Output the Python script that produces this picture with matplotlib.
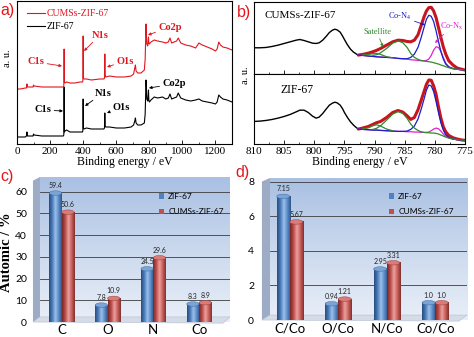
import numpy as np
import matplotlib
matplotlib.use("Agg")
import matplotlib.pyplot as plt
from matplotlib.patches import Ellipse, Polygon, Rectangle
from matplotlib.colors import LinearSegmentedColormap

W, H = 474, 337
plt.rcParams["mathtext.default"] = "regular"
SERIF = "Liberation Serif"
SANS = "Liberation Sans"
CALI = "Lato"

# ---------------- a) survey spectra ----------------
survey_ev = [0, 20, 50, 57, 60, 63, 90, 97, 100, 103, 150, 200, 250, 280, 283, 285, 287, 290, 300, 320,
             350, 380, 396, 398, 400, 402, 405, 420, 450, 500, 525, 529, 531, 533, 536, 560, 600, 650, 690, 705,
             712, 716, 720, 730, 750, 770, 775, 778, 780, 782, 785, 790, 793, 795, 797, 800, 810, 830, 850, 880,
             900, 915, 925, 935, 950, 965, 975, 990, 1020, 1050, 1080, 1100, 1120, 1150, 1180, 1200, 1210, 1220, 1230, 1245,
             1270, 1300]
survey_zif = [7, 7, 7, 8, 12, 8, 8, 8, 10, 9, 8, 8, 8, 8, 9, 57, 12, 13, 14, 12,
              12, 12, 12, 13, 45, 16, 15, 16, 15, 15, 15, 16, 31, 18, 17, 17, 16, 16, 17, 19,
              23, 26, 21, 19, 19, 21, 30, 50, 64, 58, 45, 43, 48, 54, 44, 42, 44, 47, 46, 47,
              45, 46, 50, 45, 46, 47, 51, 46, 44, 43, 44, 45, 43, 42, 41, 40, 42, 49, 47, 45,
              44, 42]
survey_cums = [55, 55, 56, 56, 60, 57, 57, 57, 59, 58, 57, 57, 57, 57, 58, 95, 62, 61, 62, 61,
               61, 62, 62, 63, 108, 66, 65, 65, 64, 65, 65, 66, 90, 69, 67, 68, 67, 67, 68, 70,
               76, 79, 73, 71, 71, 74, 85, 105, 120, 110, 100, 98, 102, 107, 101, 100, 102, 104, 103, 102,
               101, 102, 106, 101, 102, 103, 106, 101, 99, 98, 96, 101, 99, 97, 95, 93, 95, 102, 99, 97,
               96, 94]

# ---------------- b) Co2p spectra ----------------
raw_ev = [810, 809, 808, 807, 806, 805, 804, 803, 802.4, 801.7, 801, 800.3, 799.7, 799.2, 798.6, 798,
          797.5, 797, 796.6, 796.2, 795.7, 795.3, 795, 794.5, 794, 793.5, 793, 792.7]
raw_cums = [79, 79, 80, 83, 87, 92, 97, 102, 104, 101, 97, 93, 92, 94, 102, 114,
            125, 132, 135, 133, 126, 114, 104, 88, 75, 66, 60, 57]
raw_zif = [68, 69, 71, 74, 78, 83, 89, 97, 102, 102, 95, 84, 78, 81, 92, 106,
           117, 123, 126, 124, 117, 106, 95, 80, 67, 57, 49, 45]

fit_ev = [792.7, 792, 791, 790.3, 789.7, 789, 788, 787, 786.1, 785.3, 784.6, 784, 783.4, 782.8, 782.3,
          781.8, 781.4, 781, 780.6, 780.2, 779.8, 779.4, 779, 778.6, 778.2, 777.7, 777, 776.3, 775.5, 775]
env_cums = [57, 59, 63, 67, 71, 77, 87, 97, 102, 101, 98, 97, 102, 118, 145,
            172, 190, 200, 201, 190, 170, 140, 110, 82, 60, 40, 27, 18, 14, 12]
conx_cums = [57, 56, 54, 53, 52, 51, 50, 49, 47, 46, 45, 43, 42, 41, 40,
             40, 41, 45, 56, 72, 82, 80, 68, 50, 33, 22, 17, 14, 13, 12]
con4_cums = [57, 56, 54, 53, 52, 51, 50, 49, 47, 46, 46, 50, 60, 80, 108,
             140, 165, 177, 174, 158, 130, 98, 68, 45, 30, 21, 16, 14, 13, 12]
sat1_ev = [792, 791, 790.3, 789.7, 789, 788, 787]
sat1_cums = [57, 59, 61, 62, 59, 52, 49]
sat2_cums = [56, 58, 64, 77, 93, 100, 94, 80, 62, 50, 44, 41, 39, 38, 37,
             36, 34, 32, 30, 27, 25, 22, 19, 16, 14, 13, 12]

env_zif = [45, 48, 53, 59, 64, 68, 80, 95, 101, 96, 85, 74, 80, 103, 130,
           158, 180, 193, 192, 175, 150, 112, 78, 52, 37, 26, 19, 15, 12, 11]
conx_zif = [45, 44, 43, 42, 42, 41, 40, 39, 38, 38, 37, 37, 36, 36, 35,
            35, 35, 36, 40, 45, 48, 46, 39, 30, 23, 18, 15, 13, 12, 11]
con4_zif = [45, 44, 43, 42, 42, 41, 40, 39, 38, 38, 39, 44, 54, 75, 103,
            135, 162, 178, 175, 158, 128, 95, 64, 42, 28, 20, 15, 13, 12, 11]
sat1_zif = [45, 49, 55, 58, 54, 45, 40]
sat2_zif = [44, 47, 55, 72, 90, 98, 92, 77, 60, 48, 41, 37, 35, 34, 34,
            33, 33, 32, 30, 27, 24, 21, 18, 15, 13, 12, 11]

# ---------------- c) / d) composition ----------------
elements = ["C", "O", "N", "Co"]
atomic_zif = [59.4, 7.8, 24.5, 8.3]
atomic_cums = [50.6, 10.9, 29.6, 8.9]
atomic_zif_txt = ["59.4", "7.8", "24.5", "8.3"]
atomic_cums_txt = ["50.6", "10.9", "29.6", "8.9"]

ratios = ["C/Co", "O/Co", "N/Co", "Co/Co"]
ratio_zif = [7.15, 0.94, 2.95, 1.0]
ratio_cums = [5.67, 1.21, 3.31, 1.0]
ratio_zif_txt = ["7.15", "0.94", "2.95", "1.0"]
ratio_cums_txt = ["5.67", "1.21", "3.31", "1.0"]

RED_A = "#e0161e"
RED_B = "#c8141c"
BLUE_B = "#1c1cc8"
MAG = "#e020d8"
GREEN = "#2e8b2e"
LETTER = "#e3151d"

fig = plt.figure(figsize=(W / 100, H / 100), dpi=100)


def box(x0, y0, x1, y1):
    return [x0 / W, 1 - y1 / H, (x1 - x0) / W, (y1 - y0) / H]


def fpx(x, y):
    return (x, H - y)


def note(ax, text, txt_xy, tip_xy, color, size, family=SERIF, weight="normal"):
    ax.annotate(text, xy=fpx(*tip_xy), xycoords="figure pixels",
                xytext=fpx(*txt_xy), textcoords="figure pixels",
                ha="center", va="center", color=color, fontsize=size,
                family=family, fontweight=weight,
                arrowprops=dict(arrowstyle="-|>", color=color, lw=0.6,
                                mutation_scale=4, shrinkA=0, shrinkB=0))


# ======== a) ========
ax_a = fig.add_axes(box(17, 1, 232, 144), zorder=0)
ax_a.plot(survey_ev, survey_zif, color="black", lw=0.8, label="ZIF-67")
ax_a.plot(survey_ev, survey_cums, color=RED_A, lw=0.8, label="CUMSs-ZIF-67")
ax_a.set_xlim(0, 1300)
ax_a.set_ylim(0, 143)
ax_a.set_xticks(range(0, 1201, 200))
ax_a.set_xticks(range(100, 1300, 200), minor=True)
ax_a.set_yticks([])
ax_a.tick_params(direction="in", labelsize=8, length=3, width=0.6, pad=2)
ax_a.tick_params(which="minor", direction="in", length=1.8, width=0.5)
for lbl in ax_a.get_xticklabels():
    lbl.set_fontfamily(SERIF)
for s in ax_a.spines.values():
    s.set_linewidth(0.8)
ax_a.set_xlabel("Binding energy / eV", family=SERIF, fontsize=8.5, labelpad=0.5)
h, l = ax_a.get_legend_handles_labels()
ax_a.legend(h[::-1], l[::-1], loc="upper left", bbox_to_anchor=(27 / W, 1 - 9 / H),
            bbox_transform=fig.transFigure, frameon=False, prop=dict(family=SERIF, size=7),
            handlelength=1.8, handletextpad=0.25, labelspacing=0.45, borderpad=0,
            borderaxespad=0, labelcolor="linecolor")
fig.text(8 / W, 1 - 58 / H, "a. u.", rotation=90, ha="center", va="center", family=SERIF, fontsize=7.5)

for text, t, p, c in [("C1s", (36, 62), (62, 66), RED_A), ("N1s", (100, 35), (84, 51), RED_A),
                      ("O1s", (125, 61), (107, 67), RED_A), ("Co2p", (170, 27), (148, 35), RED_A),
                      ("C1s", (43, 110), (63, 111), "black"), ("N1s", (103, 93), (85, 106), "black"),
                      ("O1s", (121, 107), (107, 113), "black"), ("Co2p", (174, 84), (149, 88), "black")]:
    note(ax_a, text, t, p, c, 7.5, weight="bold")

# ======== b) ========
ax_bt = fig.add_axes(box(254, 2, 465, 74), zorder=0)
ax_bb = fig.add_axes(box(254, 74, 465, 144), zorder=0)
panels = [(ax_bt, raw_cums, env_cums, conx_cums, con4_cums, sat1_cums, sat2_cums, 217),
          (ax_bb, raw_zif, env_zif, conx_zif, con4_zif, sat1_zif, sat2_zif, 211)]
for ax, raw, env, conx, con4, s1, s2, top in panels:
    ax.plot(raw_ev, raw, color="black", lw=1.0)
    ax.plot(fit_ev, env, color=RED_B, lw=2.2, solid_capstyle="round")
    ax.plot(fit_ev, conx, color=MAG, lw=0.9)
    ax.plot(fit_ev, con4, color=BLUE_B, lw=0.9)
    ax.plot(sat1_ev, s1, color=GREEN, lw=0.9)
    ax.plot(fit_ev[3:], s2, color=GREEN, lw=0.9)
    ax.set_xlim(810, 775)
    ax.set_ylim(0, top)
    ax.set_yticks([])
    ax.set_xticks(range(775, 811, 5))
    ax.set_xticks(np.arange(777.5, 810, 5), minor=True)
    ax.tick_params(direction="in", labelsize=8, length=3, width=0.6, pad=2)
    ax.tick_params(which="minor", direction="in", length=1.8, width=0.5)
    for s in ax.spines.values():
        s.set_linewidth(0.8)
ax_bt.tick_params(labelbottom=False)
for lbl in ax_bb.get_xticklabels():
    lbl.set_fontfamily(SERIF)
ax_bb.set_xlabel("Binding energy / eV", family=SERIF, fontsize=8.5, labelpad=0.5)
fig.text(245 / W, 1 - 75 / H, "a. u.", rotation=90, ha="center", va="center", family=SERIF, fontsize=7.5)
fig.text(300 / W, 1 - 15 / H, "CUMSs-ZIF-67", ha="center", va="center", family=SERIF, fontsize=8)
fig.text(297 / W, 1 - 90 / H, "ZIF-67", ha="center", va="center", family=SERIF, fontsize=8.5)
for dy in (0, 70):
    note(ax_bt, "Satellite", (377, 32 + dy), (383, 47 + dy), GREEN, 6)
    note(ax_bt, "Co-N$_4$", (400, 16 + dy), (425, 25 + dy), BLUE_B, 6)
note(ax_bt, "Co-N$_x$", (452, 26), (435, 43), MAG, 6)
note(ax_bt, "Co-N$_x$", (451, 108), (437, 126), MAG, 6)

# white sheet for the lower half (covers the bottom of the x labels)
fig.patches.append(Rectangle((0, 0), 1, 1 - 170 / H, transform=fig.transFigure,
                             fc="white", ec="none", zorder=1))

# ======== c) / d) ========
wall_cmap = LinearSegmentedColormap.from_list("wall", ["#e9eff8", "#cbd9ee", "#a9c0e3"])
blue_cyl = LinearSegmentedColormap.from_list("bc", ["#284c7c", "#4a7cba", "#9cc0ea", "#5b8bc7", "#2c5588"])
red_cyl = LinearSegmentedColormap.from_list("rc", ["#762826", "#bd4c49", "#eba29f", "#c95f5c", "#80302d"])
grad_h = np.linspace(0, 1, 64).reshape(1, -1)
grad_v = np.linspace(0, 1, 128).reshape(-1, 1)


def bar_panel(px_box, cats, zif, cums, zif_txt, cums_txt, ymax, yticks, xlim, side_w, ypad, leg_xy):
    ax = fig.add_axes(box(*px_box), zorder=2)
    ax.imshow(grad_v, extent=[0, 1, 0, 1], transform=ax.transAxes, cmap=wall_cmap,
              origin="lower", aspect="auto", zorder=0)
    ax.add_patch(Polygon([(-side_w, 0), (0, 0.035), (0, 1), (-side_w, 0.975)], closed=True,
                         transform=ax.transAxes, clip_on=False, fc="#9dabc4", ec="none", zorder=0))
    ax.add_patch(Polygon([(-side_w, 0), (0, 0.035), (1, 0.035), (1 - side_w, -0.008)], closed=True,
                         transform=ax.transAxes, clip_on=False, fc="#d5dce8", ec="#b3bdd0", lw=0.4, zorder=1))
    x = np.arange(len(cats))
    w = 0.27
    px_h = (px_box[3] - px_box[1])
    eh = 4.5 * ymax / px_h
    b1 = ax.bar(x - w / 2, zif, w, color="#4f81bd", label="ZIF-67", zorder=3)
    b2 = ax.bar(x + w / 2, cums, w, color="#c0504d", label="CUMSs-ZIF-67", zorder=3)
    for bars, cmap, topc, edge, txts in ((b1, blue_cyl, "#7aa3d6", "#36659e", zif_txt),
                                         (b2, red_cyl, "#d97b78", "#973330", cums_txt)):
        for r, t in zip(bars, txts):
            x0, bw, bh = r.get_x(), r.get_width(), r.get_height()
            ax.add_patch(Ellipse((x0 + bw / 2, 0), bw, eh, fc=edge, ec="none", zorder=2.9))
            ax.imshow(grad_h, extent=[x0, x0 + bw, 0, bh], cmap=cmap, aspect="auto", zorder=3.1)
            ax.add_patch(Ellipse((x0 + bw / 2, bh), bw, eh, fc=topc, ec=edge, lw=0.3, zorder=3.2))
            ax.annotate(t, (x0 + bw / 2, bh), xytext=(0, 5.5), textcoords="offset points",
                        ha="center", va="center", fontsize=5, family=CALI, color="#222222")
    ax.set_xlim(*xlim)
    ax.set_ylim(0, ymax)
    ax.set_yticks(yticks)
    ax.set_xticks(x)
    ax.set_xticklabels(cats, family=CALI, fontsize=9.5)
    for lbl in ax.get_yticklabels():
        lbl.set_fontfamily(CALI)
    ax.tick_params(axis="y", length=0, labelsize=7.5, pad=ypad)
    ax.tick_params(axis="x", length=0, pad=1.5)
    ax.yaxis.grid(True, color="#3c3c3c", lw=0.6)
    ax.set_axisbelow(True)
    for s in ax.spines.values():
        s.set_visible(False)
    ax.legend(loc="upper left", bbox_to_anchor=(leg_xy[0] / W, 1 - leg_xy[1] / H),
              bbox_transform=fig.transFigure, frameon=False, prop=dict(family=CALI, size=6),
              handlelength=0.6, handleheight=0.6, handletextpad=0.5, labelspacing=1.0,
              borderpad=0, borderaxespad=0)
    return ax


ax_c = bar_panel((40, 177, 230, 322), elements, atomic_zif, atomic_cums, atomic_zif_txt, atomic_cums_txt,
                 66.8, range(0, 61, 10), (-0.474, 3.675), 0.037, 9.4, (159, 193))
fig.text(7 / W, 1 - 252 / H, "Automic / %", rotation=90, ha="center", va="center",
         family=SERIF, fontweight="bold", fontsize=10.5, zorder=3)

ax_d = bar_panel((270, 178, 467, 320), ratios, ratio_zif, ratio_cums, ratio_zif_txt, ratio_cums_txt,
                 8.21, range(0, 9, 2), (-0.406, 3.656), 0.041, 11.5, (389, 193))

for t, (x, y) in [("a)", (8, 11)), ("b)", (244, 12)), ("c)", (7, 177)), ("d)", (243, 172))]:
    fig.text(x / W, 1 - y / H, t, ha="center", va="center", family=SANS, fontsize=11.5,
             color=LETTER, zorder=4)

fig.savefig("out.png", dpi=100)
